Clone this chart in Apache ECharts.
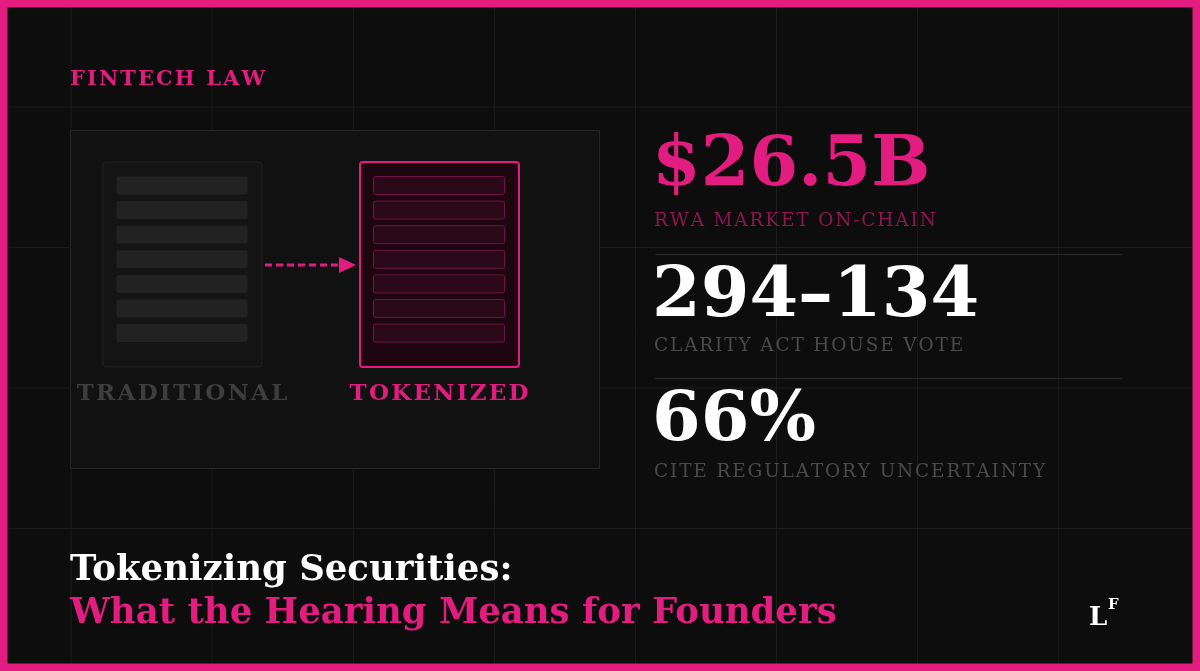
<!DOCTYPE html>
<html><head><meta charset="utf-8">
<script src="https://cdn.jsdelivr.net/npm/echarts@6/dist/echarts.min.js"></script>
<style>html,body{margin:0;background:#0d0d0d}#c{width:1200px;height:671px}</style>
</head><body><div id="c"></div>
<script>
const PINK = '#e31c7f'
const SERIF = '"DejaVu Serif", "Liberation Serif", serif'

const kicker = 'FINTECH LAW'
const statValues = ['$26.5B', '294–134', '66%']
const statLabels = ['RWA MARKET ON-CHAIN', 'CLARITY ACT HOUSE VOTE', 'CITE REGULATORY UNCERTAINTY']
const docLabels = ['TRADITIONAL', 'TOKENIZED']
const docRows = 7
const titleLines = ['Tokenizing Securities:', 'What the Hearing Means for Founders']

// canvas letterSpacing is not honoured here, so track caps with hair spaces
const spaced = s => s.split('').join('\u200A')

const chart = echarts.init(document.getElementById('c'))
const g = []

// faint background grid
for (let x = 71; x < 1200; x += 141.1) {
  g.push({ type: 'line', shape: { x1: x, y1: 0, x2: x, y2: 671 }, style: { stroke: '#1c1c1c', lineWidth: 1 } })
}
for (let y = 107; y < 671; y += 140.5) {
  g.push({ type: 'line', shape: { x1: 0, y1: y, x2: 1200, y2: y }, style: { stroke: '#1c1c1c', lineWidth: 1 } })
}
// pink frame
g.push({ type: 'rect', shape: { x: 3.5, y: 3.5, width: 1193, height: 664 }, style: { fill: 'none', stroke: PINK, lineWidth: 8 } })

g.push({ type: 'text', x: 70, y: 80, style: { text: spaced(kicker), fill: PINK, font: 'bold 21px ' + SERIF, verticalAlign: 'middle' } })

// illustration panel
g.push({ type: 'rect', shape: { x: 70.5, y: 130.5, width: 529, height: 338 }, style: { fill: '#111', stroke: '#262626', lineWidth: 1 } })

function doc(x, tok) {
  g.push({ type: 'rect', shape: { x: x, y: 162, width: 159, height: 205, r: 3 },
    style: { fill: tok ? '#1e0610' : '#141414', stroke: tok ? PINK : '#222', lineWidth: tok ? 2 : 1 } })
  for (let i = 0; i < docRows; i++) {
    g.push({ type: 'rect', shape: { x: x + 13.5, y: 176.5 + i * 24.6, width: 131, height: 18, r: 2 },
      style: { fill: tok ? '#2a0a18' : '#222', stroke: tok ? '#6e1440' : 'none', lineWidth: 1 } })
  }
}
doc(103, false)
doc(360, true)
g.push({ type: 'line', shape: { x1: 265, y1: 265, x2: 340, y2: 265 }, style: { stroke: PINK, lineWidth: 3, lineDash: [7, 4] } })
g.push({ type: 'polygon', shape: { points: [[339, 257], [356, 265], [339, 273]] }, style: { fill: PINK } })
g.push({ type: 'text', x: 182, y: 394, style: { text: spaced(docLabels[0]), fill: '#3e3e3e', font: 'bold 23px ' + SERIF, align: 'center', verticalAlign: 'middle' } })
g.push({ type: 'text', x: 439, y: 394, style: { text: spaced(docLabels[1]), fill: PINK, font: 'bold 23px ' + SERIF, align: 'center', verticalAlign: 'middle' } })

// stats
const statY = [167, 298, 422]
const labelY = [221, 346, 472]
const valColors = [PINK, '#fff', '#fff']
const labColors = ['#8e1550', '#4a4a4a', '#4a4a4a']
statValues.forEach((v, i) => {
  g.push({ type: 'text', x: 652, y: statY[i], style: { text: v, fill: valColors[i], font: 'bold 70px ' + SERIF, verticalAlign: 'middle' } })
  g.push({ type: 'text', x: 654, y: labelY[i], style: { text: spaced(statLabels[i]), fill: labColors[i], font: '18.5px ' + SERIF, verticalAlign: 'middle' } })
})
;[254, 378].forEach(y => g.push({ type: 'line', shape: { x1: 655, y1: y + 0.5, x2: 1122, y2: y + 0.5 }, style: { stroke: '#2a2a2a', lineWidth: 1 } }))

// title
g.push({ type: 'text', x: 70, y: 571, style: { text: titleLines[0], fill: '#fff', font: 'bold 35.5px ' + SERIF, verticalAlign: 'middle' } })
g.push({ type: 'text', x: 70, y: 614, style: { text: titleLines[1], fill: PINK, font: 'bold 35.5px ' + SERIF, verticalAlign: 'middle' } })

// logo
g.push({ type: 'text', x: 1089, y: 618, style: { text: 'L', fill: '#fff', font: 'bold 26px ' + SERIF, verticalAlign: 'middle' } })
g.push({ type: 'text', x: 1108, y: 605, style: { text: 'F', fill: '#fff', font: 'bold 15px ' + SERIF, verticalAlign: 'middle' } })

chart.setOption({ backgroundColor: '#0d0d0d', graphic: { elements: g } })
</script></body></html>
